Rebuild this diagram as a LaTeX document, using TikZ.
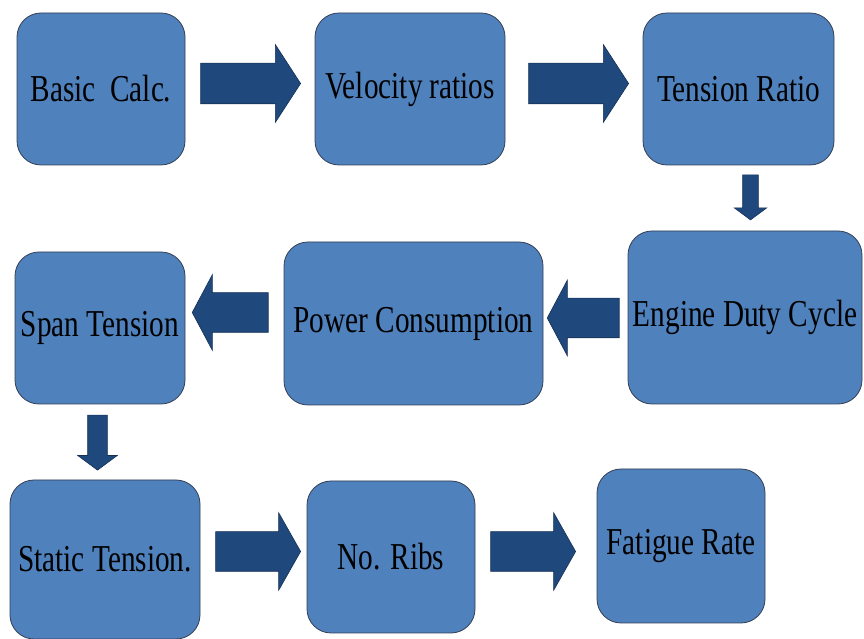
\documentclass[tikz,border=0pt]{standalone}
\usepackage{fontspec}
\setmainfont{Liberation Serif}
\usepackage{graphicx}
\usepackage{tikz}
\usetikzlibrary{positioning, shapes.arrows, calc}

\definecolor{boxblue}{RGB}{79,129,189}
\definecolor{boxedge}{RGB}{52,62,84}
\definecolor{arrowblue}{RGB}{31,73,125}
\definecolor{arrowedge}{RGB}{22,48,84}

% narrow the box labels as in the slide
\newcommand{\narrowtxt}[1]{\scalebox{0.77}[1]{#1}}

\begin{document}
\begin{tikzpicture}[
  x=1pt, y=1pt,
  every node/.style={font=\fontsize{38}{42}\selectfont},
  box/.style={draw=boxedge, line width=0.8pt, fill=boxblue, rounded corners=24pt, inner sep=0pt, align=center},
  blockarr/.style={single arrow, draw=arrowedge, line width=0.6pt, fill=arrowblue, inner xsep=0pt, midway},
  rarrow/.style={blockarr, minimum height=100pt, inner ysep=20pt, single arrow head extend=18.5pt, single arrow tip angle=114},
  rarrowshort/.style={blockarr, minimum height=85pt, inner ysep=19.5pt, single arrow head extend=19pt, single arrow tip angle=121},
  larrow/.style={blockarr, inner ysep=19.5pt, single arrow head extend=18pt, single arrow tip angle=124},
  darrow/.style={blockarr, single arrow tip angle=107}
]
\useasboundingbox (0,0) rectangle (864,639);
% Top row
\node[box, minimum width=168pt, minimum height=152pt] (basic) at (101,550) {\narrowtxt{Basic~~Calc.}};
\node[box, minimum width=190pt, minimum height=152pt] (velocity) at (410,550) {\narrowtxt{Velocity ratios}};
\node[box, minimum width=191pt, minimum height=152pt] (tension) at (738.5,550) {\narrowtxt{Tension Ratio}};
% Middle row
\node[box, minimum width=234pt, minimum height=173pt] (engine) at (745,321.5) {\narrowtxt{Engine Duty Cycle}};
\node[box, minimum width=259pt, minimum height=163pt] (power) at (413.5,315.5) {\narrowtxt{Power Consumption}};
\node[box, minimum width=170pt, minimum height=152pt] (span) at (100,311) {\narrowtxt{Span Tension}};
% Bottom row
\node[box, minimum width=190pt, minimum height=159pt] (static) at (105,79.5) {\narrowtxt{Static Tension.}};
\node[box, minimum width=168pt, minimum height=152pt] (ribs) at (391,82) {\narrowtxt{No. Ribs}};
\node[box, minimum width=168pt, minimum height=154pt] (fatigue) at (681,93) {\narrowtxt{Fatigue Rate}};
% Block arrows
\path (basic.east) -- node[rarrow, xshift=-6pt, yshift=5.5pt] {} (velocity.west);
\path (velocity.east) -- node[rarrow, xshift=-2pt, yshift=5.5pt] {} (tension.west);
\path (tension.south) -- node[darrow, xshift=8.75pt, yshift=3.5pt, minimum height=45pt, inner ysep=7.5pt, single arrow head extend=8.5pt, rotate=-90] {} (engine.north);
\path (engine.west) -- node[larrow, xshift=3pt, yshift=2.5pt, minimum height=72pt, rotate=180] {} (power.east);
\path (power.west) -- node[larrow, xshift=1pt, yshift=13.25pt, minimum height=76pt, rotate=180] {} (span.east);
\path (span.south) -- node[darrow, xshift=-5pt, yshift=3pt, minimum height=55pt, inner ysep=9.5pt, single arrow head extend=10pt, rotate=-90] {} (static.north);
\path (static.east) -- node[rarrowshort, xshift=-1pt, yshift=6.75pt] {} (ribs.west);
\path (ribs.east) -- node[rarrowshort, xshift=-8.5pt] {} (fatigue.west);
\end{tikzpicture}
\end{document}
